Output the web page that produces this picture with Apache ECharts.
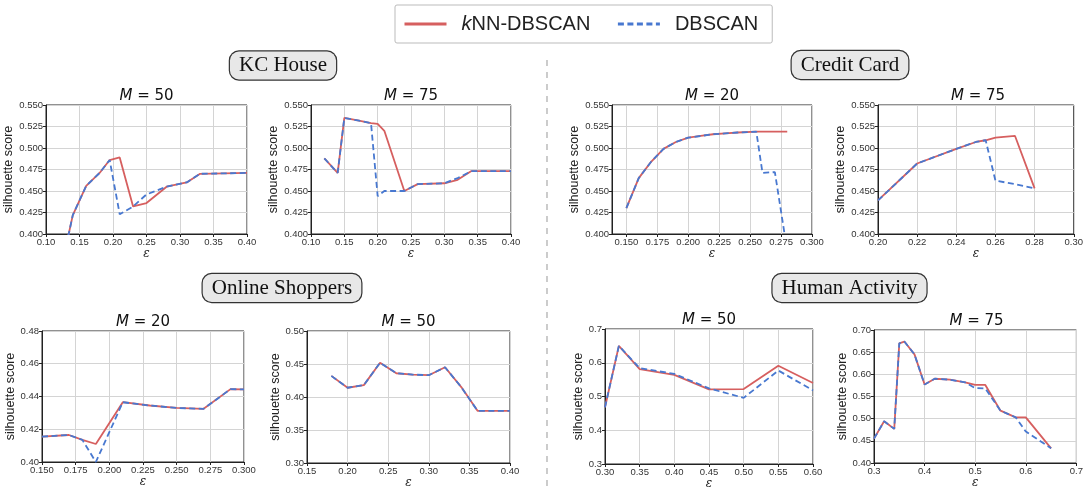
<!DOCTYPE html>
<html>
<head>
<meta charset="utf-8">
<script src="https://cdn.jsdelivr.net/npm/echarts@6/dist/echarts.min.js"></script>
<style>html,body{margin:0;padding:0;background:#fff}#c{width:1086px;height:492px}</style>
</head>
<body>
<div id="c"></div>
<script>
// ---------- data ----------
// KC House, M=50
const eps1 = [0.13, 0.14, 0.16, 0.18, 0.195, 0.21, 0.23, 0.25, 0.28, 0.31, 0.33, 0.40];
const knn1 = [0.386, 0.422, 0.456, 0.471, 0.486, 0.489, 0.432, 0.436, 0.455, 0.460, 0.470, 0.471];
const db1  = [0.386, 0.422, 0.456, 0.471, 0.486, 0.423, 0.432, 0.446, 0.455, 0.460, 0.470, 0.471];
// KC House, M=75
const eps2 = [0.12, 0.14, 0.15, 0.17, 0.19, 0.20, 0.21, 0.24, 0.26, 0.30, 0.32, 0.34, 0.40];
const knn2 = [0.488, 0.471, 0.535, 0.532, 0.529, 0.528, 0.520, 0.450, 0.458, 0.459, 0.463, 0.473, 0.473];
const db2  = [0.488, 0.471, 0.535, 0.532, 0.529, 0.444, 0.450, 0.450, 0.458, 0.459, 0.465, 0.473, 0.473];
// Credit Card, M=20
const eps3 = [0.15, 0.16, 0.17, 0.18, 0.19, 0.20, 0.21, 0.22, 0.23, 0.24, 0.255, 0.26, 0.27, 0.28];
const knn3 = [0.430, 0.465, 0.484, 0.499, 0.507, 0.512, 0.514, 0.516, 0.517, 0.518, 0.519, 0.519, 0.519, 0.519];
const db3  = [0.430, 0.465, 0.484, 0.499, 0.507, 0.512, 0.514, 0.516, 0.517, 0.518, 0.519, 0.471, 0.472, 0.380];
// Credit Card, M=75
const eps4 = [0.20, 0.22, 0.24, 0.25, 0.255, 0.26, 0.27, 0.28];
const knn4 = [0.439, 0.482, 0.499, 0.507, 0.509, 0.512, 0.514, 0.453];
const db4  = [0.439, 0.482, 0.499, 0.507, 0.509, 0.462, 0.458, 0.453];
// Online Shoppers, M=20
const eps5 = [0.15, 0.17, 0.18, 0.19, 0.21, 0.23, 0.25, 0.27, 0.29, 0.30];
const knn5 = [0.4155, 0.4165, 0.4135, 0.411, 0.4365, 0.4345, 0.433, 0.4325, 0.4445, 0.4443];
const db5  = [0.4155, 0.4165, 0.4135, 0.400, 0.4365, 0.4345, 0.433, 0.4325, 0.4445, 0.4443];
// Online Shoppers, M=50
const eps6 = [0.18, 0.20, 0.22, 0.24, 0.26, 0.28, 0.30, 0.32, 0.34, 0.36, 0.40];
const knn6 = [0.432, 0.414, 0.418, 0.452, 0.436, 0.434, 0.433, 0.445, 0.415, 0.379, 0.379];
const db6  = [0.432, 0.414, 0.418, 0.452, 0.436, 0.434, 0.433, 0.445, 0.415, 0.379, 0.379];
// Human Activity, M=50
const eps7 = [0.30, 0.32, 0.35, 0.40, 0.45, 0.50, 0.55, 0.60];
const knn7 = [0.468, 0.650, 0.581, 0.564, 0.521, 0.522, 0.591, 0.540];
const db7  = [0.468, 0.650, 0.584, 0.567, 0.524, 0.496, 0.577, 0.518];
// Human Activity, M=75
const eps8 = [0.30, 0.32, 0.34, 0.35, 0.36, 0.38, 0.40, 0.42, 0.45, 0.48, 0.50, 0.52, 0.55, 0.58, 0.60, 0.65];
const knn8 = [0.455, 0.494, 0.477, 0.670, 0.674, 0.645, 0.577, 0.590, 0.588, 0.582, 0.576, 0.576, 0.518, 0.503, 0.503, 0.433];
const db8  = [0.455, 0.494, 0.477, 0.670, 0.674, 0.645, 0.577, 0.590, 0.588, 0.582, 0.569, 0.568, 0.518, 0.503, 0.471, 0.433];

// tick labels
const xTicks1 = ['0.10','0.15','0.20','0.25','0.30','0.35','0.40'];
const xTicks2 = ['0.10','0.15','0.20','0.25','0.30','0.35','0.40'];
const xTicks3 = ['0.150','0.175','0.200','0.225','0.250','0.275','0.300'];
const xTicks4 = ['0.20','0.22','0.24','0.26','0.28','0.30'];
const xTicks5 = ['0.150','0.175','0.200','0.225','0.250','0.275','0.300'];
const xTicks6 = ['0.15','0.20','0.25','0.30','0.35','0.40'];
const xTicks7 = ['0.30','0.35','0.40','0.45','0.50','0.55','0.60'];
const xTicks8 = ['0.3','0.4','0.5','0.6','0.7'];
const yTicksTop = ['0.400','0.425','0.450','0.475','0.500','0.525','0.550'];
const yTicks5 = ['0.40','0.42','0.44','0.46','0.48'];
const yTicks6 = ['0.30','0.35','0.40','0.45','0.50'];
const yTicks7 = ['0.3','0.4','0.5','0.6','0.7'];
const yTicks8 = ['0.40','0.45','0.50','0.55','0.60','0.65','0.70'];

const groupNames = ['KC House', 'Credit Card', 'Online Shoppers', 'Human Activity'];
const mValues = [50, 75, 20, 75, 20, 50, 50, 75];
const seriesNames = ['kNN-DBSCAN', 'DBSCAN'];

// ---------- layout ----------
const panels = [
  {eps: eps1, knn: knn1, db: db1, xt: xTicks1, yt: yTicksTop, xmin: 0.10, xmax: 0.40, ymin: 0.40, ymax: 0.55, g: {left: 46, top: 105, width: 201, height: 129}, yGap: 25},
  {eps: eps2, knn: knn2, db: db2, xt: xTicks2, yt: yTicksTop, xmin: 0.10, xmax: 0.40, ymin: 0.40, ymax: 0.55, g: {left: 311, top: 105, width: 200, height: 129}, yGap: 25},
  {eps: eps3, knn: knn3, db: db3, xt: xTicks3, yt: yTicksTop, xmin: 0.1384, xmax: 0.30, ymin: 0.40, ymax: 0.55, g: {left: 612, top: 105, width: 200, height: 129}, yGap: 24},
  {eps: eps4, knn: knn4, db: db4, xt: xTicks4, yt: yTicksTop, xmin: 0.20, xmax: 0.30, ymin: 0.40, ymax: 0.55, g: {left: 878, top: 105, width: 200, height: 129}, yGap: 25},
  {eps: eps5, knn: knn5, db: db5, xt: xTicks5, yt: yTicks5, xmin: 0.15, xmax: 0.30, ymin: 0.40, ymax: 0.48, g: {left: 42, top: 331, width: 202, height: 131}, yGap: 22},
  {eps: eps6, knn: knn6, db: db6, xt: xTicks6, yt: yTicks6, xmin: 0.15, xmax: 0.40, ymin: 0.30, ymax: 0.50, g: {left: 307, top: 331, width: 203, height: 132}, yGap: 22},
  {eps: eps7, knn: knn7, db: db7, xt: xTicks7, yt: yTicks7, xmin: 0.30, xmax: 0.60, ymin: 0.3, ymax: 0.7, g: {left: 605, top: 329, width: 208, height: 135}, yGap: 20},
  {eps: eps8, knn: knn8, db: db8, xt: xTicks8, yt: yTicks8, xmin: 0.3, xmax: 0.7, ymin: 0.40, ymax: 0.70, g: {left: 874, top: 330, width: 205, height: 133}, yGap: 22}
];

const RED = '#d65f5f', BLUE = '#4878d0';
const SANS = 'Liberation Sans, Arial, sans-serif';

function decOf(ticks) { return ticks[0].split('.')[1].length; }

const grids = [], xAxes = [], yAxes = [], series = [], graphics = [];

panels.forEach((p, i) => {
  grids.push(Object.assign({show: true, borderColor: '#222', borderWidth: 1, backgroundColor: '#fff'}, p.g));
  const xd = decOf(p.xt), yd = decOf(p.yt);
  xAxes.push({
    type: 'value', gridIndex: i, min: p.xmin, max: p.xmax,
    name: 'ε', nameLocation: 'middle', nameGap: 13,
    nameTextStyle: {fontFamily: 'DejaVu Serif, serif', fontStyle: 'italic', fontSize: 12, color: '#222'},
    axisLine: {show: true, onZero: false, lineStyle: {color: '#222', width: 1}},
    axisTick: {show: true, length: 3, customValues: p.xt.map(Number), lineStyle: {color: '#222'}},
    axisLabel: {customValues: p.xt.map(Number), fontSize: 9.5, fontFamily: SANS, color: '#333', margin: 3,
      formatter: v => v.toFixed(xd), hideOverlap: false},
    splitLine: {show: true, lineStyle: {color: '#d4d4d4', width: 1}}
  });
  yAxes.push({
    type: 'value', gridIndex: i, min: p.ymin, max: p.ymax,
    name: 'silhouette score', nameLocation: 'middle', nameGap: p.yGap,
    nameTextStyle: {fontFamily: SANS, fontSize: 12.5, color: '#222'},
    axisLine: {show: true, onZero: false, lineStyle: {color: '#222', width: 1}},
    axisTick: {show: true, length: 3, customValues: p.yt.map(Number), lineStyle: {color: '#222'}},
    axisLabel: {customValues: p.yt.map(Number), fontSize: 9.5, fontFamily: SANS, color: '#333', margin: 3,
      formatter: v => v.toFixed(yd)},
    splitLine: {show: true, lineStyle: {color: '#d4d4d4', width: 1}}
  });
  series.push({
    name: seriesNames[0], type: 'line', xAxisIndex: i, yAxisIndex: i,
    data: p.eps.map((x, k) => [x, p.knn[k]]),
    symbol: 'circle', showSymbol: false, clip: true, z: 2,
    lineStyle: {color: RED, width: 1.8}, itemStyle: {color: RED}
  });
  series.push({
    name: seriesNames[1], type: 'line', xAxisIndex: i, yAxisIndex: i,
    data: p.eps.map((x, k) => [x, p.db[k]]),
    symbol: 'circle', showSymbol: false, clip: true, z: 3,
    lineStyle: {color: BLUE, width: 1.8, type: [6, 3.5]}, itemStyle: {color: BLUE}
  });
  graphics.push({
    type: 'text', z: 10,
    x: p.g.left + p.g.width / 2, y: p.g.top - 9,
    style: {
      text: '{i|M} = ' + mValues[i], align: 'center', verticalAlign: 'middle',
      font: '15px "DejaVu Sans", sans-serif', fill: '#111',
      rich: {i: {font: 'italic 15px "DejaVu Sans", sans-serif', fill: '#111'}}
    }
  });
});

const groupPos = [[283, 65.5], [850, 65], [282, 288], [849.5, 288]];
groupNames.forEach((n, k) => {
  graphics.push({
    type: 'text', z: 10, x: groupPos[k][0], y: groupPos[k][1],
    style: {
      text: n, align: 'center', verticalAlign: 'middle',
      font: '21px "Liberation Serif", "Times New Roman", serif', fill: '#111',
      backgroundColor: '#e8e8e8', borderColor: '#333', borderWidth: 1.2, borderRadius: 9,
      padding: [4, 9, 3, 9]
    }
  });
});

graphics.push({
  type: 'line', shape: {x1: 547, y1: 60, x2: 547, y2: 492},
  style: {stroke: '#aaa', lineWidth: 1.2, lineDash: [6, 6]}
});

const option = {
  animation: false,
  backgroundColor: '#fff',
  grid: grids,
  xAxis: xAxes,
  yAxis: yAxes,
  series: series,
  legend: {
    data: seriesNames,
    left: 395, top: 5,
    padding: [9, 14, 9, 8],
    itemWidth: 42, itemHeight: 20, itemGap: 26,
    borderColor: '#bbb', borderWidth: 1, borderRadius: 2,
    lineStyle: {width: 3},
    itemStyle: {opacity: 0, borderWidth: 0},
    formatter: n => n === 'kNN-DBSCAN' ? '{i|k}NN-DBSCAN' : n,
    textStyle: {fontFamily: SANS, fontSize: 20, color: '#222', padding: [0, 0, 0, 10],
      rich: {i: {fontFamily: SANS, fontStyle: 'italic', fontSize: 20, color: '#222'}}}
  },
  graphic: graphics
};

const chart = echarts.init(document.getElementById('c'), null, {renderer: 'canvas'});
chart.setOption(option);
</script>
</body>
</html>
